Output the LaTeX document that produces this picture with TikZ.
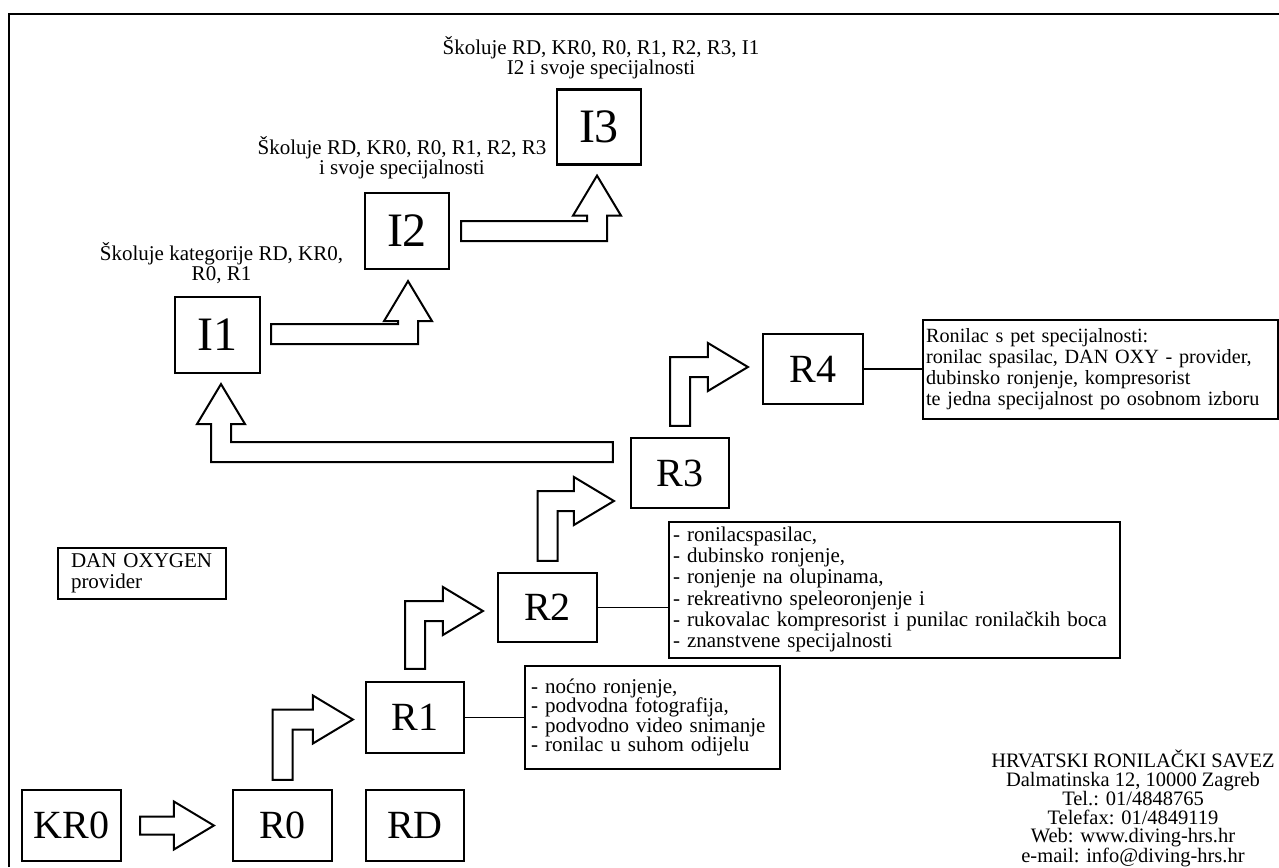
\documentclass[tikz,border=0pt]{standalone}
\usepackage{fontspec}
\setmainfont{Liberation Serif}
\usetikzlibrary{positioning,calc}

\newcommand{\flatarrow}[2]{%
	\draw[bigarrow] let \p1=#1, \p2=#2 in
	(\x1,\y2+9pt) -- (\x2-40pt,\y2+9pt) -- (\x2-40pt,\y2+24pt) -- (\x2,\y2)
	-- (\x2-40pt,\y2-24pt) -- (\x2-40pt,\y2-9pt) -- (\x1,\y2-9pt) -- cycle;}
\newcommand{\uprightarrow}[2]{%
	\draw[bigarrow] let \p1=#1, \p2=#2 in
	(\x1-10pt,\y1) -- (\x1-10pt,\y2+10pt) -- (\x2-40pt,\y2+10pt) -- (\x2-40pt,\y2+24pt)
	-- (\x2,\y2) -- (\x2-40pt,\y2-24pt) -- (\x2-40pt,\y2-10pt) -- (\x1+10pt,\y2-10pt)
	-- (\x1+10pt,\y1) -- cycle;}
\newcommand{\rightuparrow}[2]{%
	\draw[bigarrow] let \p1=#1, \p2=#2 in
	(\x1,\y1+10pt) -- (\x2-10pt,\y1+10pt) -- (\x2-10pt,\y2-40pt) -- (\x2-24pt,\y2-40pt)
	-- (\x2,\y2) -- (\x2+24pt,\y2-40pt) -- (\x2+10pt,\y2-40pt) -- (\x2+10pt,\y1-10pt)
	-- (\x1,\y1-10pt) -- cycle;}
\newcommand{\leftuparrow}[2]{%
	\draw[bigarrow] let \p1=#1, \p2=#2 in
	(\x1,\y1+10pt) -- (\x2+10pt,\y1+10pt) -- (\x2+10pt,\y2-40pt) -- (\x2+24pt,\y2-40pt)
	-- (\x2,\y2) -- (\x2-24pt,\y2-40pt) -- (\x2-10pt,\y2-40pt) -- (\x2-10pt,\y1-10pt)
	-- (\x1,\y1-10pt) -- cycle;}

\begin{document}
\begin{tikzpicture}[x=1pt,y=-1pt,
	grade/.style={rectangle, draw, line width=2.2pt, inner sep=0pt,
		font=\fontsize{40}{40}\selectfont, minimum width=99pt, minimum height=71pt},
	trainer/.style={grade, font=\fontsize{48}{48}\selectfont, minimum width=85pt, minimum height=76pt},
	speclist/.style={rectangle, draw, line width=2pt, align=left, inner xsep=6pt,
		font=\fontsize{21}{20}\selectfont},
	remark/.style={align=center, inner sep=0pt, font=\fontsize{21}{19}\selectfont},
	bigarrow/.style={draw, line width=2pt, fill=white},
	link/.style={line width=1.6pt},
	]
	\useasboundingbox (0,0) rectangle (1279,867);
	\fill[white] (0,0) rectangle (1279,867);
	\draw[line width=1.6pt] (9,867) -- (9,14) -- (1279,14);

	% diver grades
	\node[grade] (KR0) at (71.5,825.5) {KR0};
	\node[grade] (R0) at (282.5,825.5) {R0};
	\node[grade, minimum width=98pt] (RD) at (415,825.5) {RD};
	\node[grade, minimum width=98pt] (R1) at (415,717.5) {R1};
	\node[grade, minimum height=69pt] (R2) at (547.5,607.5) {R2};
	\node[grade, minimum width=98pt, minimum height=70pt] (R3) at (680,473) {R3};
	\node[grade, minimum width=100pt, minimum height=70pt] (R4) at (813,369) {R4};

	% instructors
	\node[trainer] (I1) at (217.5,335) {I1};
	\node[trainer, minimum width=84pt] (I2) at (407,231) {I2};
	\node[trainer, minimum width=84pt, minimum height=75pt] (I3) at (599,127) {I3};

	\node[remark, font=\fontsize{21}{18}\selectfont, above=12pt of I1, xshift=4pt] (I1note)
		{Školuje kategorije RD, KR0,\\R0, R1};
	\node[remark, font=\fontsize{21}{20}\selectfont, above=13pt of I2, xshift=-5pt] (I2note)
		{Školuje RD, KR0, R0, R1, R2, R3\\i svoje specijalnosti};
	\node[remark, font=\fontsize{21}{20}\selectfont, above=9pt of I3, xshift=2pt] (I3note)
		{Školuje RD, KR0, R0, R1, R2, R3, I1\\I2 i svoje specijalnosti};

	% specialities
	\node[speclist, text width=243pt, minimum height=103pt, font=\fontsize{21}{19.3}\selectfont,
		right=59pt of R1] (R1spec)
		{- noćno ronjenje,\\- podvodna fotografija,\\- podvodno video snimanje\\- ronilac u suhom odijelu};
	\node[speclist, text width=443pt, inner xsep=4pt, minimum height=136pt, font=\fontsize{21}{21.2}\selectfont,
		anchor=west] (R2spec) at ($(R2.east)+(70,-18)$)
		{- ronilacspasilac,\\- dubinsko ronjenje,\\- ronjenje na olupinama,\\- rekreativno speleoronjenje i\\- rukovalac kompresorist i punilac ronilačkih boca\\- znanstvene specijalnosti};
	\node[speclist, text width=349pt, inner xsep=3pt, minimum height=99pt, font=\fontsize{20.2}{21}\selectfont,
		right=58pt of R4] (R4spec)
		{Ronilac s pet specijalnosti:\\ronilac spasilac, DAN OXY - provider,\\dubinsko ronjenje, kompresorist\\te jedna specijalnost po osobnom izboru};
	\node[speclist, text width=142pt, inner xsep=13pt, minimum height=51pt, font=\fontsize{21}{21}\selectfont]
		(DAN) at (142,573.5) {DAN OXYGEN\\provider};

	\draw[link] (R1.east) -- (R1spec.west);
	\draw[link] (R2.east) -- (R2.east -| R2spec.west);
	\draw[link] (R4.east) -- (R4spec.west);

	% block arrows
	\flatarrow{($(KR0.east)+(18,0)$)}{($(R0.west)+(-18,0)$)}
	\uprightarrow{($(R0.north)+(0,-9)$)}{($(R1.west)+(-12,2)$)}
	\uprightarrow{($(R1.north)+(0,-12)$)}{($(R2.west)+(-14,3.5)$)}
	\uprightarrow{($(R2.north)+(0,-11)$)}{($(R3.west)+(-16,28)$)}
	\uprightarrow{($(R3.north)+(0,-11)$)}{($(R4.west)+(-14,-2)$)}
	\rightuparrow{($(I1.east)+(10,-1)$)}{($(I2.south)+(1,11)$)}
	\rightuparrow{($(I2.east)+(11,0)$)}{($(I3.south)+(-2,10)$)}
	\leftuparrow{($(R3.west)+(-17,-21)$)}{($(I1.south)+(3.5,10)$)}

	\node[remark, font=\fontsize{20.5}{18.5}\selectfont] (HRS) at (1133,808.5)
		{HRVATSKI RONILAČKI SAVEZ\\Dalmatinska 12, 10000 Zagreb\\Tel.: 01/4848765\\Telefax: 01/4849119\\Web: www.diving-hrs.hr\\e-mail: info@diving-hrs.hr};
\end{tikzpicture}
\end{document}
